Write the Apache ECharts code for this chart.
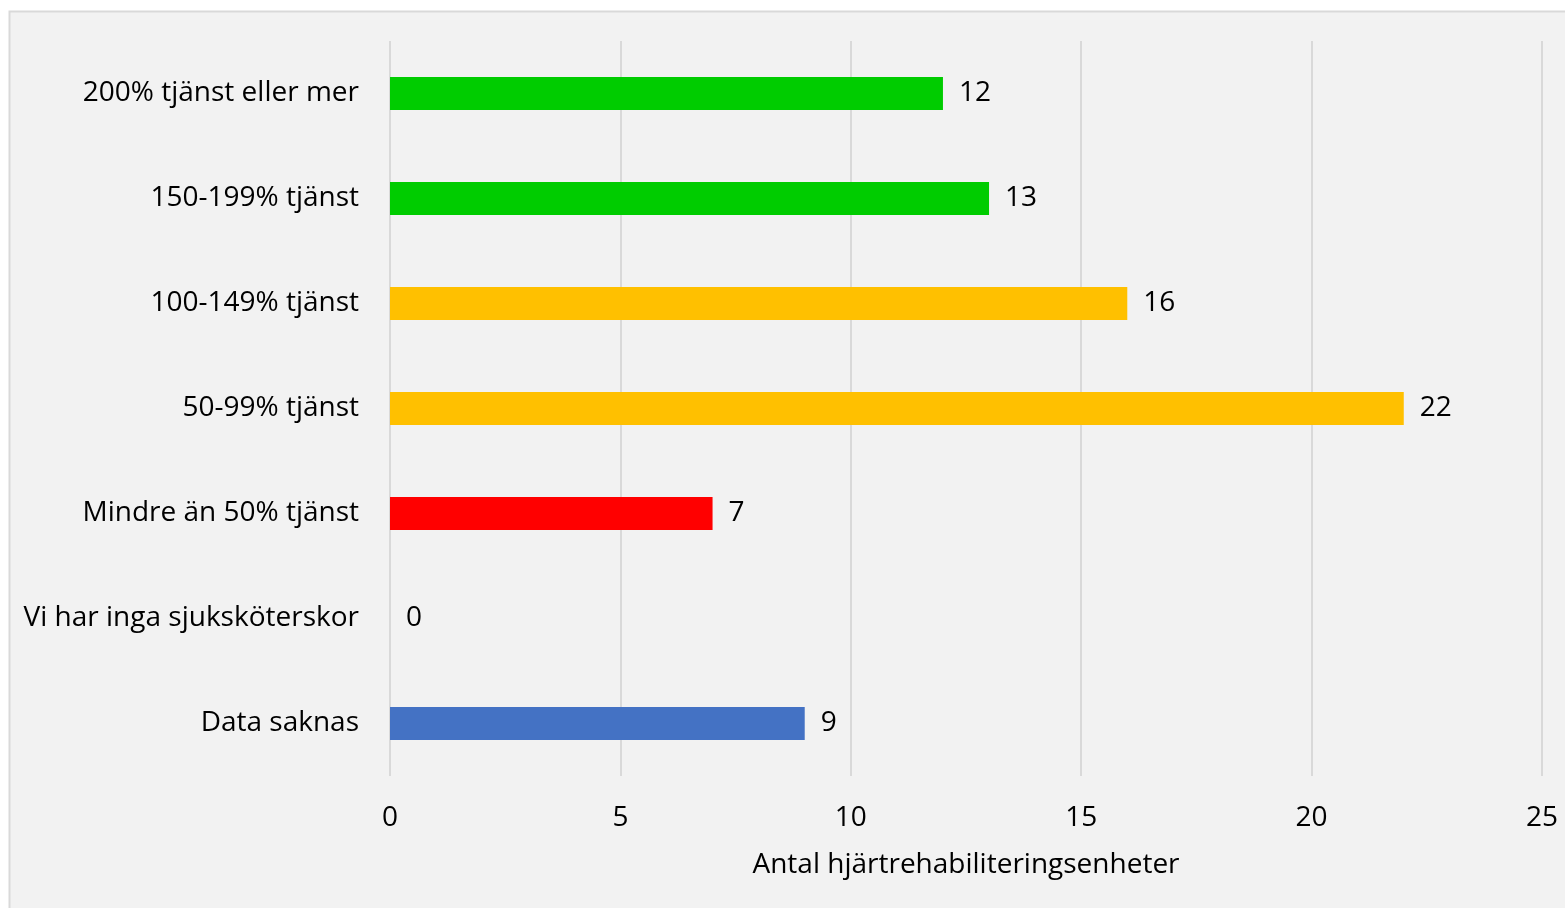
<!DOCTYPE html>
<html>
<head>
<meta charset="utf-8">
<script src="https://cdn.jsdelivr.net/npm/echarts@6/dist/echarts.min.js"></script>
<style>
  html, body { margin: 0; padding: 0; background: #ffffff; }
  #chart { width: 1565px; height: 908px; }
</style>
</head>
<body>
<div id="chart"></div>
<script>
// Sjuksköterskebemanning per hjärtrehabiliteringsenhet
const categories = [
  '200% tjänst eller mer',
  '150-199% tjänst',
  '100-149% tjänst',
  '50-99% tjänst',
  'Mindre än 50% tjänst',
  'Vi har inga sjuksköterskor',
  'Data saknas'
];
const values = [12, 13, 16, 22, 7, 0, 9];
const barColors = ['#00CC00', '#00CC00', '#FFC000', '#FFC000', '#FF0000', '#FF0000', '#4472C4'];
const xTicks = [0, 5, 10, 15, 20, 25];
const axisTitle = 'Antal hjärtrehabiliteringsenheter';

const font = '"Open Sans", "Noto Sans", sans-serif';
const fs = 28;
const chart = echarts.init(document.getElementById('chart'));

chart.setOption({
  backgroundColor: '#ffffff',
  animation: false,
  textStyle: { fontFamily: font },
  graphic: [{
    type: 'rect',
    z: -10,
    shape: { x: 9.5, y: 11.5, width: 1620, height: 920 },
    style: { fill: '#f2f2f2', stroke: '#d9d9d9', lineWidth: 2 }
  }],
  grid: { left: 390, right: 23, top: 41, bottom: 132 },
  xAxis: {
    type: 'value',
    min: xTicks[0],
    max: xTicks[xTicks.length - 1],
    interval: 5,
    axisLine: { show: false },
    axisTick: { show: false },
    splitLine: { show: true, lineStyle: { color: '#d9d9d9', width: 2 } },
    axisLabel: { color: '#000', fontSize: fs, margin: 28, fontFamily: font },
    name: axisTitle,
    nameLocation: 'middle',
    nameGap: 75,
    nameTextStyle: { color: '#000', fontSize: fs, fontFamily: font }
  },
  yAxis: {
    type: 'category',
    data: categories,
    inverse: true,
    axisLine: { show: false },
    axisTick: { show: false },
    axisLabel: { color: '#000', fontSize: fs, margin: 31, fontFamily: font, padding: [4, 0, 0, 0] }
  },
  series: [{
    type: 'bar',
    data: values.map((v, i) => ({ value: v, itemStyle: { color: barColors[i] } })),
    barWidth: 33,
    label: {
      show: true,
      position: 'right',
      distance: 16,
      color: '#000',
      fontSize: fs,
      fontFamily: font,
      padding: [5, 0, 0, 0]
    }
  }]
});
</script>
</body>
</html>
